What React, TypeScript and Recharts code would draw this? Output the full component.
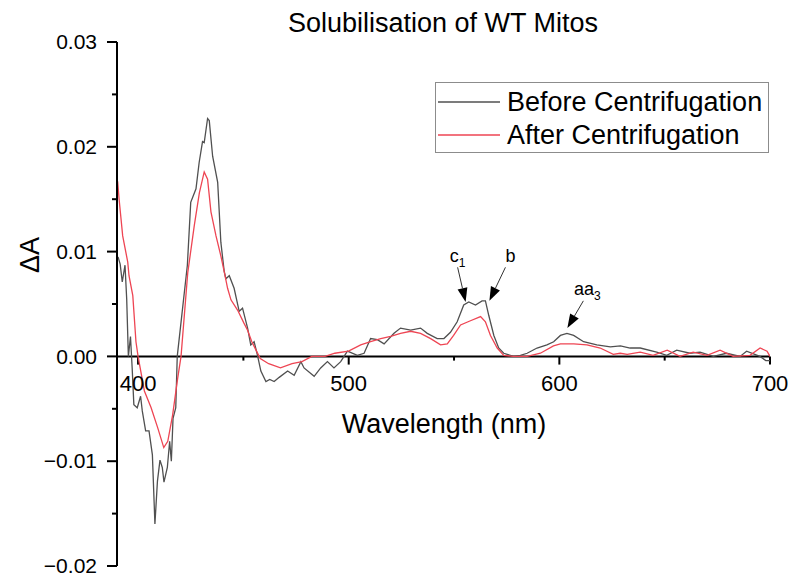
import { Legend, Line, LineChart, ReferenceDot, ReferenceLine, XAxis, YAxis } from 'recharts';

const FONT = 'Arial, "Liberation Sans", sans-serif';

const seriesNames = ['Before Centrifugation', 'After Centrifugation'];
const seriesColors = ['#505050', '#ee4553'];

// Before centrifugation (grey trace)
const beforeWavelength = [
  390.5, 391.5, 392.5, 393.8, 394.6, 395.4, 396.4, 397.2, 398.0, 399.6, 401.2, 402.0, 403.6, 405.2,
  406.8, 407.6, 408.0, 409.2, 410.4, 411.5, 412.3, 413.9, 415.0, 415.8, 416.6, 417.9, 418.6, 423.4,
  425.0, 427.5, 429.0, 430.6, 431.4, 433.0, 433.8, 435.4, 437.8, 439.3, 440.9, 441.7, 443.3, 445.6,
  448.0, 449.6, 452.0, 453.5, 455.1, 456.7, 458.3, 460.7, 462.5, 464.6, 467.0, 471.0, 474.1, 477.3,
  478.8, 483.6, 486.7, 489.9, 493.0, 496.2, 499.4, 504.1, 507.3, 510.4, 513.6, 516.8, 521.5, 524.6,
  529.4, 534.1, 537.3, 542.0, 545.2, 548.3, 551.5, 554.6, 557.0, 560.2, 563.3, 564.9, 566.5, 568.9,
  571.2, 573.6, 578.3, 581.5, 584.7, 589.4, 594.1, 597.3, 600.5, 603.6, 606.8, 611.5, 617.8, 624.2,
  629.0, 633.6, 638.4, 646.2, 651.0, 655.7, 662.0, 666.8, 673.1, 679.4, 685.8, 688.9, 695.2, 698.0,
  700.0,
];
const beforeDeltaA = [
  0.0095, 0.0088, 0.0071, 0.0087, 0.0055, 0.0, 0.0019, -0.0011, -0.0046, -0.0049, -0.0038, -0.0052,
  -0.0071, -0.0071, -0.0094, -0.0138, -0.016, -0.0119, -0.0099, -0.0106, -0.012, -0.0106, -0.0081,
  -0.01, -0.0059, -0.0049, 0.0, 0.0087, 0.0147, 0.016, 0.0185, 0.0205, 0.0204, 0.0227, 0.0225, 0.0191,
  0.0166, 0.0109, 0.0081, 0.0074, 0.0077, 0.0065, 0.0043, 0.0046, 0.0027, 0.0011, 0.0014, 0.0001,
  -0.0014, -0.0024, -0.0022, -0.0024, -0.002, -0.0014, -0.0018, -0.0005, -0.0011, -0.0019, -0.0011,
  -0.0005, -0.0011, -0.0005, 0.0005, 0.0001, 0.0003, 0.0017, 0.0016, 0.0012, 0.0022, 0.0027, 0.0025,
  0.0027, 0.0022, 0.0017, 0.0017, 0.0023, 0.0033, 0.0049, 0.0052, 0.0049, 0.0053, 0.0053, 0.0039,
  0.002, 0.0008, 0.0003, 0.0, 0.0001, 0.0003, 0.0008, 0.0011, 0.0014, 0.002, 0.0022, 0.002, 0.0014,
  0.0011, 0.0009, 0.001, 0.0008, 0.0008, 0.0004, 0.0001, 0.0006, 0.0003, 0.0004, 0.0, 0.0003, 0.0,
  0.0005, 0.0, -0.0004, -0.0004,
];

// After centrifugation (red trace)
const afterWavelength = [
  390.3, 391.0, 392.7, 395.1, 395.7, 397.5, 399.0, 400.0, 403.0, 406.2, 409.3, 412.2, 414.1, 416.4,
  418.8, 420.4, 423.6, 426.7, 429.1, 431.4, 433.0, 434.6, 437.0, 439.3, 440.9, 442.5, 444.1, 447.3,
  450.2, 452.0, 454.0, 456.0, 458.0, 462.0, 467.6, 473.1, 477.8, 482.5, 488.8, 493.4, 499.9, 505.7,
  510.4, 515.2, 519.9, 524.6, 529.4, 534.1, 538.9, 543.6, 546.8, 549.8, 553.1, 557.8, 562.6, 564.9,
  567.3, 570.5, 573.6, 578.2, 584.7, 591.0, 597.2, 600.5, 606.8, 613.1, 619.4, 625.6, 628.9, 632.2,
  638.4, 644.5, 651.2, 657.3, 663.5, 670.1, 676.3, 682.5, 690.5, 695.3, 698.6, 700.0,
];
const afterDeltaA = [
  0.0167, 0.015, 0.0115, 0.009, 0.0077, 0.0058, 0.0014, 0.0, -0.0033, -0.0049, -0.0068, -0.0087,
  -0.0081, -0.0056, -0.0021, 0.0, 0.008, 0.0125, 0.0156, 0.0176, 0.0169, 0.0138, 0.0115, 0.0096,
  0.0081, 0.0065, 0.0054, 0.0044, 0.0032, 0.0025, 0.0014, 0.0006, -0.0002, -0.0007, -0.0011, -0.0007,
  -0.0005, 0.0, 0.0, 0.0003, 0.0005, 0.0011, 0.0014, 0.0017, 0.0019, 0.0022, 0.0024, 0.0022, 0.0017,
  0.0011, 0.0012, 0.002, 0.003, 0.0034, 0.0038, 0.0033, 0.002, 0.0008, 0.0001, 0.0, 0.0, 0.0003,
  0.001, 0.0012, 0.0012, 0.0011, 0.0008, 0.0002, 0.0003, 0.0002, 0.0004, 0.0001, 0.0006, 0.0, 0.0004,
  0.0001, 0.0006, 0.0, 0.0001, 0.0008, 0.0005, 0.0,
];

const yTicks = [-0.02, -0.015, -0.01, -0.005, 0, 0.005, 0.01, 0.015, 0.02, 0.025, 0.03];
const xMajorTicks = [400, 500, 600, 700];
const xMinorTicks = [450, 550, 650];

// peak annotations: text position, arrow start, arrow tip (wavelength, deltaA)
const peakNames = ['c', 'b', 'aa'];
const peakSubs = ['1', '', '3'];
const peakText = [
  [551.7, 0.0096],
  [576.8, 0.0096],
  [613.3, 0.0065],
];
const peakFrom = [
  [551.7, 0.0085],
  [574.4, 0.0085],
  [611.4, 0.0053],
];
const peakTip = [
  [555.5, 0.0052],
  [566.8, 0.0053],
  [603.8, 0.0027],
];

const before = beforeWavelength.map((wl, i) => ({ wl, value: beforeDeltaA[i] }));
const after = afterWavelength.map((wl, i) => ({ wl, value: afterDeltaA[i] }));

const formatY = (v: number) => (v < 0 ? '\u2212' : '') + Math.abs(v).toFixed(2);

const YTick = (props: any) => {
  const { x, y, payload } = props;
  const v = payload.value;
  const major = Math.abs(v * 100 - Math.round(v * 100)) < 1e-6;
  return (
    <g>
      <line x1={x - (major ? 10 : 5)} x2={x} y1={y} y2={y} stroke="#000" strokeWidth={2} />
      {major && (
        <text x={x - 20} y={y} dy="0.34em" textAnchor="end" fontSize={21} fontFamily={FONT} fill="#000">
          {formatY(v)}
        </text>
      )}
    </g>
  );
};

const arrowShape = (props: any) => {
  const { x1, y1, x2, y2 } = props;
  const dx = x2 - x1;
  const dy = y2 - y1;
  const len = Math.hypot(dx, dy) || 1;
  const ux = dx / len;
  const uy = dy / len;
  const head = 14;
  const half = 5;
  const bx = x2 - ux * head;
  const by = y2 - uy * head;
  const pts = `${x2},${y2} ${bx - uy * half},${by + ux * half} ${bx + uy * half},${by - ux * half}`;
  return (
    <g>
      <line x1={x1} y1={y1} x2={bx} y2={by} stroke="#333" strokeWidth={1} />
      <polygon points={pts} fill="#000" />
    </g>
  );
};

const peakLabel = (main: string, sub: string) => (props: any) => {
  const { viewBox } = props;
  const cx = viewBox.x + viewBox.width / 2;
  const cy = viewBox.y + viewBox.height / 2;
  return (
    <text x={cx} y={cy} dy="0.36em" textAnchor="middle" fontSize={18} fontFamily={FONT} fill="#000">
      {main}
      {sub && (
        <tspan fontSize={12} dy={5}>
          {sub}
        </tspan>
      )}
    </text>
  );
};

const renderLegend = () => (
  <div
    style={{
      width: 334,
      height: 71,
      boxSizing: 'border-box',
      border: '1px solid #8c8c8c',
      background: '#fff',
      fontFamily: FONT,
      fontSize: 27,
      position: 'relative',
    }}
  >
    {seriesNames.map((name, i) => (
      <div
        key={name}
        style={{ position: 'absolute', left: 2, top: 3 + 33 * i, height: 32, display: 'flex', alignItems: 'center' }}
      >
        <svg width={62} height={4} style={{ marginRight: 7, display: 'block' }}>
          <line x1={0} y1={2} x2={62} y2={2} stroke={seriesColors[i]} strokeWidth={1.5} />
        </svg>
        <span style={{ lineHeight: '32px', color: '#000', whiteSpace: 'nowrap' }}>{name}</span>
      </div>
    ))}
  </div>
);

const App = () => {
  return (
    <div style={{ position: 'absolute', left: 0, top: 0, width: 790, height: 576, background: '#fff', fontFamily: FONT }}>
      <div style={{ position: 'absolute', left: 443, top: 10, transform: 'translateX(-50%)', fontSize: 27, lineHeight: 1, whiteSpace: 'nowrap' }}>
        Solubilisation of WT Mitos
      </div>
      <div style={{ position: 'absolute', left: 444, top: 411, transform: 'translateX(-50%)', fontSize: 27, lineHeight: 1, whiteSpace: 'nowrap' }}>
        Wavelength (nm)
      </div>
      <div style={{ position: 'absolute', left: 30, top: 255, transform: 'translate(-50%, -50%) rotate(-90deg)', fontSize: 27, lineHeight: 1, whiteSpace: 'nowrap' }}>
        ΔA
      </div>
      <LineChart width={790} height={576} margin={{ top: 42, right: 20, left: 17, bottom: 10 }}>
        <XAxis type="number" dataKey="wl" domain={[390, 700]} allowDataOverflow hide />
        <YAxis
          type="number"
          domain={[-0.02, 0.03]}
          ticks={yTicks}
          interval={0}
          width={100}
          allowDataOverflow
          axisLine={{ stroke: '#000', strokeWidth: 2 }}
          tickLine={false}
          tickSize={0}
          tickMargin={0}
          tick={<YTick />}
        />
        <ReferenceLine y={0} stroke="#000" strokeWidth={2} />
        {xMajorTicks.map((t) => (
          <ReferenceLine
            key={`maj-${t}`}
            segment={[
              { x: t, y: 0 },
              { x: t, y: -0.00078 },
            ]}
            stroke="#000"
            strokeWidth={2}
            label={{ value: String(t), position: 'bottom', offset: 11, fontSize: 22, fill: '#000', fontFamily: FONT }}
          />
        ))}
        {xMinorTicks.map((t) => (
          <ReferenceLine
            key={`min-${t}`}
            segment={[
              { x: t, y: 0 },
              { x: t, y: -0.0004 },
            ]}
            stroke="#000"
            strokeWidth={2}
          />
        ))}
        <Line
          data={before}
          dataKey="value"
          name={seriesNames[0]}
          type="linear"
          stroke={seriesColors[0]}
          strokeWidth={1.3}
          dot={false}
          isAnimationActive={false}
        />
        <Line
          data={after}
          dataKey="value"
          name={seriesNames[1]}
          type="linear"
          stroke={seriesColors[1]}
          strokeWidth={1.3}
          dot={false}
          isAnimationActive={false}
        />
        {peakNames.map((name, i) => (
          <ReferenceLine
            key={`arrow-${name}`}
            segment={[
              { x: peakFrom[i][0], y: peakFrom[i][1] },
              { x: peakTip[i][0], y: peakTip[i][1] },
            ]}
            shape={arrowShape}
          />
        ))}
        {peakNames.map((name, i) => (
          <ReferenceDot
            key={`text-${name}`}
            x={peakText[i][0]}
            y={peakText[i][1]}
            r={0}
            fill="none"
            stroke="none"
            label={peakLabel(name, peakSubs[i])}
          />
        ))}
        <Legend
          layout="horizontal"
          verticalAlign="middle"
          align="center"
          wrapperStyle={{ left: 435, top: 82, width: 334, height: 71 }}
          content={renderLegend}
        />
      </LineChart>
    </div>
  );
};

export default App;
